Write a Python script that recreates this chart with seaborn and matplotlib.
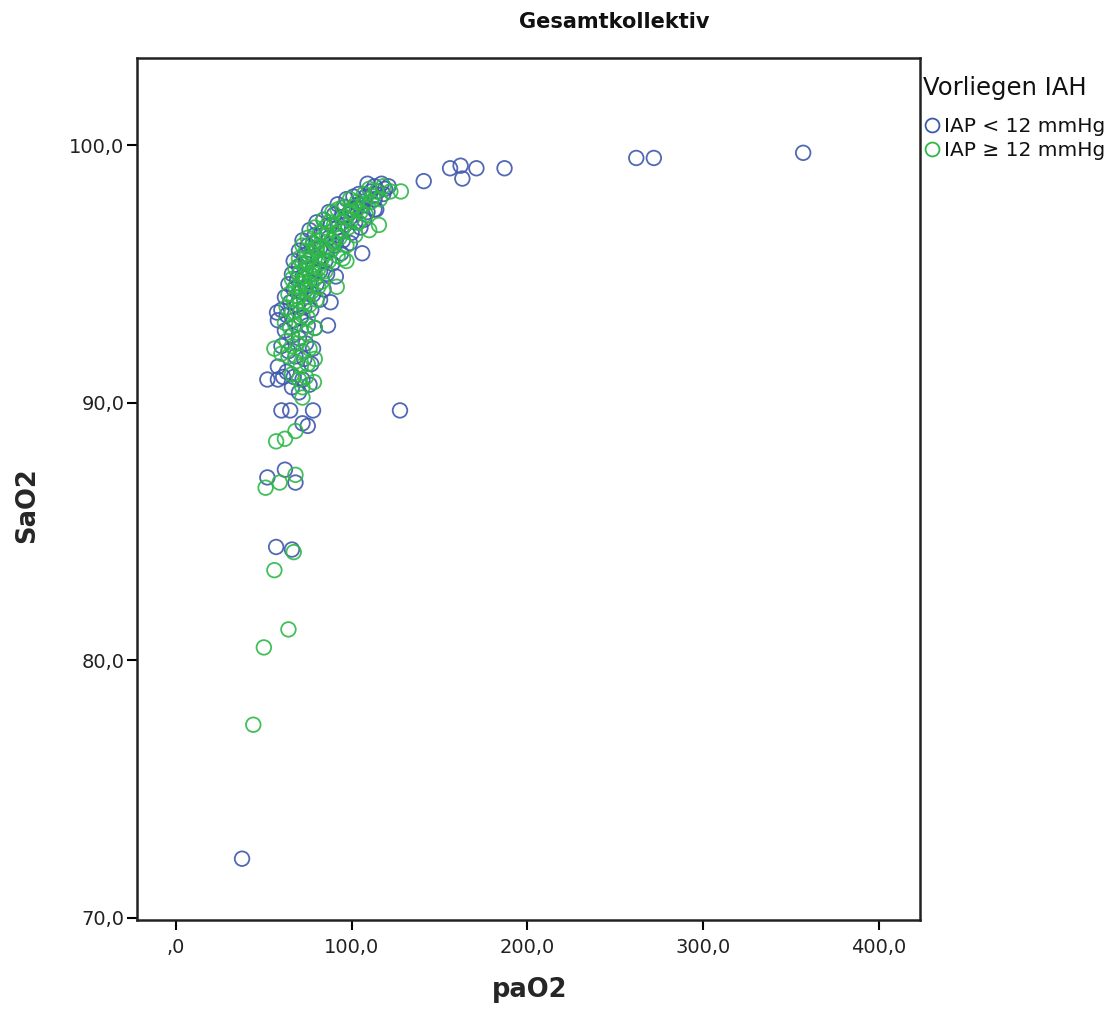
import matplotlib
matplotlib.use("Agg")
import matplotlib.pyplot as plt
from matplotlib.ticker import FuncFormatter
from matplotlib.lines import Line2D
import seaborn as sns
import pandas as pd

# ---- data ----
blue_x = [
    109, 113, 117, 119, 121, 115, 104, 108, 111, 97, 101, 106, 113, 118,
    92, 96, 100, 104, 109, 113, 87, 90, 94, 98, 102, 107,
    80, 84, 88, 92, 96, 100, 105, 76, 79, 83, 87, 91, 95, 99,
    72, 75, 78, 82, 86, 90, 94, 70, 73, 77, 81, 85, 89,
    67, 70, 74, 78, 82, 86, 91, 66, 69, 72, 76, 80, 84,
    64, 67, 71, 74, 78, 82, 88, 62, 65, 69, 73, 77,
    60, 63, 67, 71, 75, 79, 58, 62, 66, 70, 74, 78,
    60, 64, 68, 73, 77, 58, 63, 67, 72, 76, 61, 66, 70,
    57.5, 86.5, 106, 114,
    37.6, 127.5, 141, 156, 162, 163, 171, 187, 262, 272, 357,
    57, 66, 52, 62, 68, 52, 58, 60, 65, 78, 75, 72,
]
blue_y = [
    98.5, 98.4, 98.5, 98.3, 98.4, 98.2, 98.1, 98.0, 98.2, 97.9, 98.0, 97.8, 97.9, 98.1,
    97.7, 97.6, 97.5, 97.7, 97.4, 97.5, 97.4, 97.3, 97.2, 97.3, 97.0, 97.1,
    97.0, 97.1, 96.9, 96.8, 96.9, 96.6, 96.8, 96.7, 96.5, 96.6, 96.4, 96.5, 96.3, 96.2,
    96.3, 96.1, 96.2, 96.0, 95.9, 96.1, 95.8, 95.9, 95.7, 95.8, 95.6, 95.5, 95.4,
    95.5, 95.3, 95.4, 95.2, 95.1, 95.0, 94.9, 95.0, 94.8, 94.9, 94.7, 94.6, 94.4,
    94.6, 94.4, 94.3, 94.5, 94.2, 94.0, 93.9, 94.1, 93.9, 93.8, 93.7, 93.6,
    93.6, 93.4, 93.2, 93.3, 93.0, 92.9, 93.2, 92.8, 92.6, 92.5, 92.3, 92.1,
    92.2, 92.0, 91.8, 91.7, 91.5, 91.4, 91.2, 91.0, 90.9, 90.7, 91.0, 90.6, 90.4,
    93.5, 93.0, 95.8, 97.5,
    72.3, 89.7, 98.6, 99.1, 99.2, 98.7, 99.1, 99.1, 99.5, 99.5, 99.7,
    84.4, 84.3, 87.1, 87.4, 86.9, 90.9, 90.9, 89.7, 89.7, 89.7, 89.1, 89.2,
]

green_x = [
    110, 114, 118, 122, 107, 112, 116, 99, 103, 107, 111, 95, 99, 103, 108,
    89, 92, 96, 100, 104, 84, 87, 90, 94, 98, 102,
    79, 82, 86, 89, 93, 97, 75, 78, 81, 84, 88, 92,
    72, 74, 77, 80, 83, 87, 95, 70, 72, 75, 78, 81, 85,
    68, 70, 73, 76, 79, 83, 66, 68, 71, 74, 77, 81,
    64, 67, 70, 73, 76, 80, 63, 66, 69, 72, 75,
    62, 65, 68, 71, 74, 79, 63, 66, 69, 72, 76,
    60, 64, 68, 71, 75, 79, 66, 70, 74, 72,
    85, 91, 80, 86, 76, 82, 74, 79, 72, 77, 70, 75, 101, 105, 95, 90,
    128, 115.5, 110, 97, 91.5,
    44, 50, 64, 56, 67, 51, 59, 68, 57, 62, 68, 56, 78.5, 72,
]
green_y = [
    98.3, 98.2, 98.4, 98.2, 98.1, 98.0, 97.9, 97.9, 97.8, 97.7, 97.8, 97.6, 97.4, 97.5, 97.3,
    97.4, 97.5, 97.2, 97.1, 97.0, 97.1, 97.0, 96.9, 96.7, 96.8, 96.5,
    96.8, 96.6, 96.5, 96.3, 96.4, 96.1, 96.4, 96.2, 96.3, 96.0, 95.9, 95.7,
    96.1, 95.9, 95.8, 95.9, 95.6, 95.5, 95.6, 95.6, 95.4, 95.5, 95.3, 95.2, 95.1,
    95.2, 95.0, 94.9, 95.0, 94.8, 94.7, 94.8, 94.5, 94.6, 94.4, 94.3, 94.5,
    94.2, 94.0, 94.1, 93.9, 93.8, 94.0, 93.7, 93.5, 93.6, 93.4, 93.3,
    93.1, 92.9, 93.0, 92.8, 92.7, 92.9, 92.4, 92.2, 92.3, 92.0, 92.1,
    91.9, 91.8, 91.6, 91.4, 91.5, 91.7, 91.1, 90.9, 91.0, 90.6,
    96.8, 96.6, 96.0, 95.8, 95.6, 95.4, 95.2, 95.0, 94.7, 94.6, 94.3, 94.1, 97.6, 97.4, 97.0, 96.2,
    98.2, 96.9, 96.7, 95.5, 94.5,
    77.5, 80.5, 81.2, 83.5, 84.2, 86.7, 86.9, 87.2, 88.5, 88.6, 88.9, 92.1, 90.8, 90.2,
]

group_labels = ["IAP < 12 mmHg", "IAP \u2265 12 mmHg"]
x_ticks = [0, 100, 200, 300, 400]
y_ticks = [70, 80, 90, 100]

df = pd.DataFrame({
    "paO2": blue_x + green_x,
    "SaO2": blue_y + green_y,
    "Vorliegen IAH": [group_labels[0]] * len(blue_x) + [group_labels[1]] * len(green_x),
})

# ---- plot ----
sns.set_theme(style="white")
plt.rcParams["font.family"] = ["DejaVu Sans"]

fig = plt.figure(figsize=(11.18, 10.10), dpi=100)
ax = fig.add_axes([137 / 1118, 1 - 920 / 1010, (920 - 137) / 1118, (920 - 58) / 1010])

palette = {group_labels[0]: "#3E58AC", group_labels[1]: "#2EB848"}
for lab in group_labels:
    sub = df[df["Vorliegen IAH"] == lab]
    sns.scatterplot(data=sub, x="paO2", y="SaO2", ax=ax, s=110,
                    facecolors="none", edgecolor=palette[lab], linewidth=1.3,
                    alpha=0.9, legend=False)

ax.set_xlim(-22.2, 423.5)
ax.set_ylim(69.92, 103.38)
ax.set_xticks(x_ticks)
ax.set_yticks(y_ticks)

def fmt(v, pos):
    s = f"{v:.1f}".replace(".", ",")
    if s.startswith("0,"):
        s = s[1:]
    return s

ax.xaxis.set_major_formatter(FuncFormatter(fmt))
ax.yaxis.set_major_formatter(FuncFormatter(fmt))
ax.tick_params(axis="both", direction="out", length=7, width=1.5, color="black",
               labelsize=14, labelcolor="#222222", bottom=True, left=True, pad=2)
ax.tick_params(axis="x", pad=6)
for sp in ax.spines.values():
    sp.set_color("#222222")
    sp.set_linewidth(1.8)

ax.set_xlabel("paO2", fontsize=18.5, fontweight="bold")
ax.set_ylabel("SaO2", fontsize=18.5, fontweight="bold")
ax.xaxis.set_label_coords((530 - 137) / (920 - 137), -(990 - 920) / (920 - 58), transform=ax.transAxes)
ax.yaxis.set_label_coords(-(137 - 27) / (920 - 137), (920 - 505) / (920 - 58), transform=ax.transAxes)
ax.xaxis.label.set_va("center")
ax.yaxis.label.set_va("center")

fig.text(614 / 1118, 1 - 22 / 1010, "Gesamtkollektiv", ha="center", va="center",
         fontsize=15, fontweight="bold", color="#111111")

handles = [Line2D([], [], marker="o", linestyle="none", markersize=10,
                  markerfacecolor="none", markeredgecolor=palette[l], markeredgewidth=1.3)
           for l in group_labels]
leg = fig.legend(handles, group_labels, title="Vorliegen IAH", loc="upper left",
                 bbox_to_anchor=(923 / 1118, 1 - 76 / 1010), frameon=False,
                 fontsize=14.5, title_fontsize=17.5, handletextpad=0.15,
                 labelspacing=0.25, borderaxespad=0, borderpad=0, handlelength=0.9)
leg._legend_box.align = "left"
leg._legend_box.sep = 12
leg.get_title().set_color("#111111")
for t in leg.get_texts():
    t.set_color("#111111")

fig.savefig("out.png", dpi=100)
